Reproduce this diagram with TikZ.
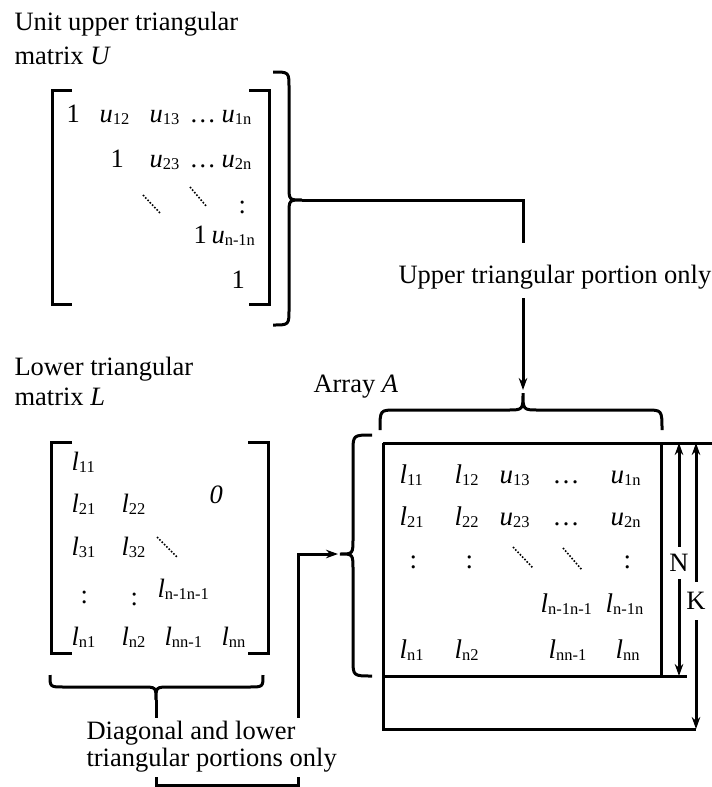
\documentclass[tikz,border=0pt]{standalone}
\usepackage{fontspec}
\setmainfont{Liberation Serif}
\usetikzlibrary{arrows.meta}
\newcommand{\mel}[2]{\textit{#1}\raisebox{-2pt}{\fontsize{16.5}{16.5}\selectfont #2}}
\begin{document}
\begin{tikzpicture}[x=1pt,y=-1pt,line width=3pt,
  lbl/.style={font=\fontsize{26.5}{30}\selectfont,inner sep=0pt,anchor=north west,align=left},
  el/.style={font=\fontsize{26.5}{26.5}\selectfont,inner sep=0pt,anchor=base west},
  ela/.style={font=\fontsize{27}{27}\selectfont,inner sep=0pt,anchor=base west},
  dotln/.style={line width=1.6pt,dash pattern=on 1.6pt off 1.7pt},
  arr/.style={-{Stealth[length=12pt,width=8.5pt]}},
  dim/.style={font=\fontsize{26.5}{26.5}\selectfont,fill=white,inner xsep=1pt}]
\useasboundingbox (0,0) rectangle (712,787);

% ---------- titles ----------
\node[lbl,font=\fontsize{26.5}{34}\selectfont] (tU) at (13,11) {Unit upper triangular\\matrix \textit{U}};
\node[lbl,font=\fontsize{26.5}{30}\selectfont] (tL) at (13,356) {Lower triangular\\matrix \textit{L}};
\node[lbl,anchor=base west] (tA) at (312,392) {Array \textit{A}};

% ---------- matrix U ----------
\draw (72,90) -- (52,90) -- (52,304) -- (72,304);
\draw (249,90) -- (269,90) -- (269,304) -- (249,304);
\node[el] (u11) at (65,122) {1};
\node[el] (u12) at (98,122) {\mel{u}{12}};
\node[el] (u13) at (148,122) {\mel{u}{13}};
\node[el] (u1d) at (188,122) {…};
\node[el] (u1n) at (220,122) {\mel{u}{1n}};
\node[el] (u22) at (109,167) {1};
\node[el] (u23) at (148,167) {\mel{u}{23}};
\node[el] (u2d) at (188,167) {…};
\node[el] (u2n) at (220,167) {\mel{u}{2n}};
\draw[dotln] (143,195) -- (160,213);
\draw[dotln] (190,187) -- (207,207);
\node[el] (u3c) at (237,213) {:};
\node[el] (u44) at (192,243) {1};
\node[el] (u4n) at (210,243) {\mel{u}{n-1n}};
\node[el] (u55) at (230,288) {1};

% brace right of U
\draw (273,72) .. controls (289,72) .. (289,88) -- (289,186)
  .. controls (289,200) .. (302,200) .. controls (289,200) .. (289,214)
  -- (289,309) .. controls (289,325) .. (273,325);
\coordinate (ut) at (302,200);
\coordinate (uend) at (523,243);
\draw (ut) -| (uend);
\node[lbl,anchor=base west] (upl) at (397,283) {Upper triangular portion only};
\coordinate (ua) at (523,298);

% ---------- array A ----------
\draw (380,430) .. controls (380,410) .. (396,410) -- (507,410)
  .. controls (523,410) .. (523,393) .. controls (523,410) .. (539,410)
  -- (646,410) .. controls (662,410) .. (662,430);
\coordinate (at) at (523,393);
\draw[arr,shorten >=3pt] (ua) -- (at);

\draw (383,443) -- (712,443);
\draw (383,443) -- (383,729) -- (696,729);
\draw (661,443) -- (661,676);
\draw (383,676) -- (687,676);

\draw (372,435) .. controls (353,435) .. (353,452) -- (353,538)
  .. controls (353,554) .. (340,554) .. controls (353,554) .. (353,570)
  -- (353,659) .. controls (353,676) .. (372,676);
\coordinate (lat) at (340,554);

\node[ela] (a11) at (398,483) {\mel{l}{11}};
\node[ela] (a12) at (453,483) {\mel{l}{12}};
\node[ela] (a13) at (498,483) {\mel{u}{13}};
\node[ela] (a1d) at (551,483) {…};
\node[ela] (a1n) at (609,483) {\mel{u}{1n}};
\node[ela] (a21) at (398,525) {\mel{l}{21}};
\node[ela] (a22) at (453,525) {\mel{l}{22}};
\node[ela] (a23) at (498,525) {\mel{u}{23}};
\node[ela] (a2d) at (551,525) {…};
\node[ela] (a2n) at (609,525) {\mel{u}{2n}};
\node[ela] (a3a) at (408,568) {:};
\node[ela] (a3b) at (464,568) {:};
\draw[dotln] (513,547) -- (533,568);
\draw[dotln] (563,548) -- (582,570);
\node[ela] (a3c) at (622,568) {:};
\node[ela] (a44) at (539,612) {\mel{l}{n-1n-1}};
\node[ela] (a4n) at (604,612) {\mel{l}{n-1n}};
\node[ela] (a51) at (398,658) {\mel{l}{n1}};
\node[ela] (a52) at (453,658) {\mel{l}{n2}};
\node[ela] (a53) at (547,658) {\mel{l}{nn-1}};
\node[ela] (a5n) at (614,658) {\mel{l}{nn}};

% dimension arrows
\coordinate (Nt) at (679,443);
\coordinate (Nb) at (679,676);
\coordinate (Kt) at (696,443);
\coordinate (Kb) at (696,729);
\node[dim,inner ysep=6pt] (N) at (679,563) {N};
\node[dim,inner ysep=9pt] (K) at (696,601) {K};
\draw[arr] (N) -- (Nt);
\draw[arr] (N) -- (Nb);
\draw[arr] (K) -- (Kt);
\draw[arr] (K) -- (Kb);

% ---------- matrix L ----------
\draw (72,442) -- (51,442) -- (51,653) -- (72,653);
\draw (248,442) -- (268,442) -- (268,653) -- (248,653);
\node[el] (l11) at (70,470) {\mel{l}{11}};
\node[el] (l21) at (70,512) {\mel{l}{21}};
\node[el] (l22) at (120,512) {\mel{l}{22}};
\node[el] (l0) at (208,503) {\textit{0}};
\node[el] (l31) at (70,555) {\mel{l}{31}};
\node[el] (l32) at (120,555) {\mel{l}{32}};
\draw[dotln] (157,537) -- (177,557);
\node[el] (l4a) at (79,603) {:};
\node[el] (l4b) at (129,605) {:};
\node[el] (l44) at (156,597) {\mel{l}{n-1n-1}};
\node[el] (l51) at (70,645) {\mel{l}{n1}};
\node[el] (l52) at (120,645) {\mel{l}{n2}};
\node[el] (l53) at (163,645) {\mel{l}{nn-1}};
\node[el] (l5n) at (220,645) {\mel{l}{nn}};

% brace below L
\draw (50,675) .. controls (50,687) .. (64,687) -- (142,687)
  .. controls (156,687) .. (156,700) .. controls (156,687) .. (170,687)
  -- (249,687) .. controls (263,687) .. (263,675);
\coordinate (lt) at (156,700);
\coordinate (b1) at (156,785);
\coordinate (b2) at (298,785);
\coordinate (b3) at (298,554);
\draw[arr,shorten >=2pt] (lt) -- (b1) -- (b2) -- (b3) -- (lat);
\node[lbl,font=\fontsize{26.5}{27}\selectfont,fill=white,inner xsep=3pt,inner ysep=4pt] (dl) at (82,716) {Diagonal and lower\\triangular portions only};
\end{tikzpicture}
\end{document}
